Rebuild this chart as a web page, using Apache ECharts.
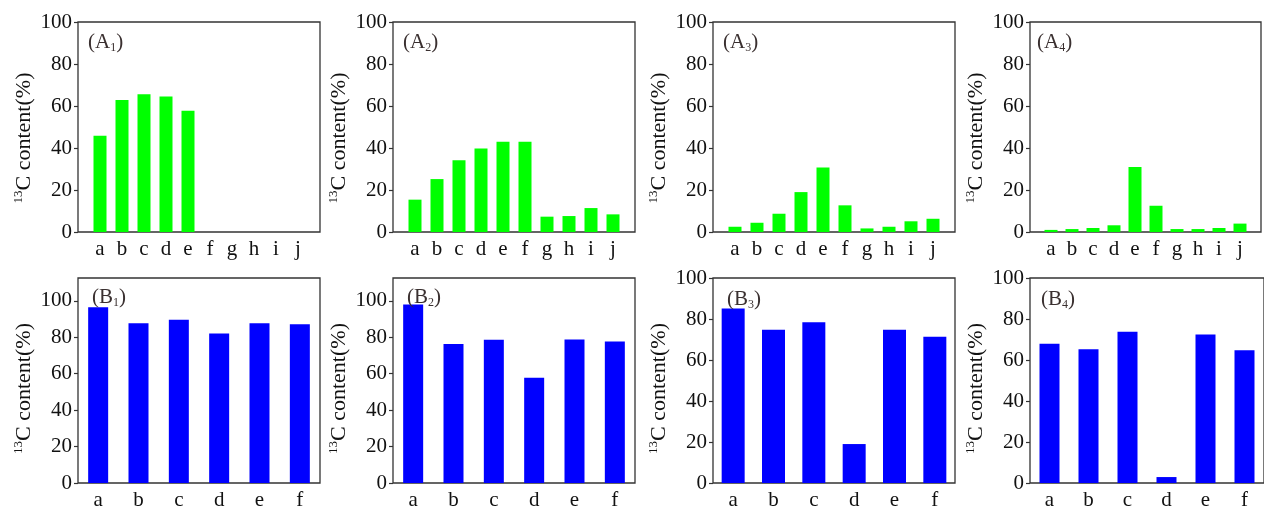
<!DOCTYPE html>
<html>
<head>
<meta charset="utf-8">
<script src="https://cdn.jsdelivr.net/npm/echarts@6/dist/echarts.min.js"></script>
<style>
html,body{margin:0;padding:0;background:#fff;}
#c{width:1264px;height:511px;}
</style>
</head>
<body>
<div id="c"></div>
<script>
// ---- data ----
const catsA = ['a','b','c','d','e','f','g','h','i','j'];
const catsB = ['a','b','c','d','e','f'];
const A1 = [45.8, 62.9, 65.6, 64.5, 57.7, 0, 0, 0, 0, 0];
const A2 = [15.4, 25.2, 34.2, 39.8, 43.0, 43.0, 7.3, 7.6, 11.4, 8.4];
const A3 = [2.5, 4.4, 8.7, 19.0, 30.7, 12.7, 1.7, 2.5, 5.1, 6.3];
const A4 = [1.0, 1.4, 1.9, 3.2, 30.9, 12.5, 1.4, 1.4, 1.9, 4.0];
const B1 = [96.4, 87.7, 89.6, 82.1, 87.7, 87.1];
const B2 = [97.9, 76.3, 78.6, 57.7, 78.8, 77.7];
const B3 = [85.1, 74.8, 78.4, 19.0, 74.8, 71.4];
const B4 = [67.9, 65.2, 73.8, 2.9, 72.5, 64.8];
const yTicks = [0, 20, 40, 60, 80, 100];
const yMaxTop = [100, 100, 100, 100];
const yMaxBottom = [112.5, 112.5, 100, 100];
const panelNames = [['A','1'],['A','2'],['A','3'],['A','4'],['B','1'],['B','2'],['B','3'],['B','4']];
const axisName = '{sup|13}C content(%)';

// ---- layout ----
const FONT = '"Liberation Serif", "Times New Roman", serif';
const lefts = [78, 393, 713, 1030];
const W = 242;
const rows = [{top: 22, h: 210}, {top: 278, h: 210}];
const labelPos = [[88,30],[403,30],[723,30],[1037,30],[92,285],[407,285],[727,287],[1041,287]];
const bottomBarW = [20, 20, 23, 20];

const topData = [A1, A2, A3, A4];
const botData = [B1, B2, B3, B4];

const grids = [], xAxes = [], yAxes = [], series = [], titles = [];
let gi = 0;
for (let r = 0; r < 2; r++) {
  for (let p = 0; p < 4; p++) {
    grids.push({
      left: lefts[p], top: rows[r].top, width: W, height: rows[r].h,
      show: true, borderColor: '#333', borderWidth: 1.3, backgroundColor: 'transparent'
    });
    const isTop = r === 0;
    const xData = isTop ? [''].concat(catsA, ['']) : catsB.slice();
    const vals = isTop ? [null].concat(topData[p], [null]) : botData[p].slice();
    xAxes.push({
      type: 'category', gridIndex: gi, data: xData,
      boundaryGap: !isTop,
      axisLine: {show: false}, axisTick: {show: false}, splitLine: {show: false},
      axisLabel: {color: '#111', fontFamily: FONT, fontSize: 21, margin: 7, interval: 0}
    });
    yAxes.push({
      type: 'value', gridIndex: gi, min: 0, max: isTop ? yMaxTop[p] : yMaxBottom[p], interval: 20,
      axisLine: {show: false},
      axisTick: {show: true, inside: false, length: 4, lineStyle: {color: '#333', width: 1.2}, customValues: yTicks},
      splitLine: {show: false},
      axisLabel: {color: '#111', fontFamily: FONT, fontSize: 21, margin: 6, customValues: yTicks},
      name: axisName, nameLocation: 'middle', nameGap: 42, nameRotate: 90,
      nameTextStyle: {
        color: '#111', fontFamily: FONT, fontSize: 22, lineHeight: 24,
        padding: [0, isTop ? 22 : 16, 0, 0],
        rich: {sup: {fontFamily: FONT, fontSize: 13, verticalAlign: 'top', lineHeight: 24, color: '#111'}}
      }
    });
    series.push({
      type: 'bar', xAxisIndex: gi, yAxisIndex: gi, data: vals,
      barWidth: isTop ? 13 : bottomBarW[p],
      itemStyle: {color: isTop ? '#00ff00' : '#0000ff'},
      silent: true, animation: false
    });
    const nm = panelNames[gi];
    titles.push({
      text: '(' + nm[0] + '{s|' + nm[1] + '})',
      left: labelPos[gi][0], top: labelPos[gi][1], padding: 0,
      textStyle: {
        color: '#3a3030', fontFamily: FONT, fontSize: 21, fontWeight: 'normal', lineHeight: 24,
        rich: {s: {fontFamily: FONT, fontSize: 12, verticalAlign: 'bottom', lineHeight: 24, color: '#3a3030'}}
      }
    });
    gi++;
  }
}

const chart = echarts.init(document.getElementById('c'), null, {renderer: 'canvas'});
chart.setOption({
  animation: false,
  backgroundColor: '#fff',
  title: titles,
  grid: grids,
  xAxis: xAxes,
  yAxis: yAxes,
  series: series
});
</script>
</body>
</html>
